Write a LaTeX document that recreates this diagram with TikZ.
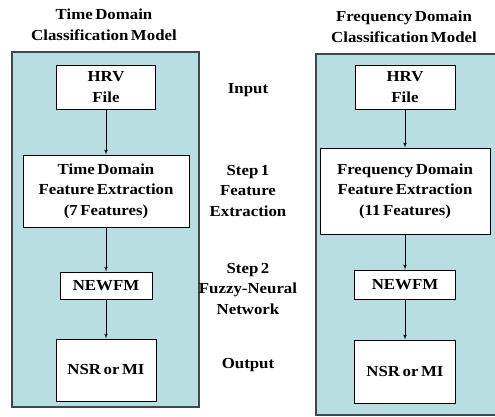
\documentclass[tikz,border=0pt]{standalone}
\usepackage{fontspec}
\setmainfont[FakeStretch=1.1,WordSpace=0.6]{Liberation Serif}
\usetikzlibrary{arrows,positioning}
\definecolor{panelfill}{RGB}{184,222,226}
\definecolor{panelline}{RGB}{64,72,76}

\begin{document}
\begin{tikzpicture}[x=1pt,y=-1pt,>=latex',
    every node/.style={font=\fontsize{15.3}{20.5}\selectfont\bfseries,align=center},
    panel/.style={draw=panelline,line width=1.4pt,fill=panelfill},
    box node/.style={draw,fill=white,line width=0.8pt,inner sep=0pt},
    every edge/.append style={->,line width=0.7pt}]

\clip (0,0) rectangle (495,416);

% the two model panels
\draw[panel] (12,52) rectangle (199,407);
\draw[panel] (316,54) rectangle (505,415);

\node (titleT) at (104,25) {Time Domain\\Classification Model};
\node (titleF) at (404,27) {Frequency Domain\\Classification Model};

% time domain column
\node[box node, minimum width=99pt, minimum height=44pt] (hrvT) at (106,87) {HRV\\File};
\node[box node, minimum width=166pt, minimum height=72pt] (featT) [below of=hrvT, node distance=104pt] {Time Domain\\Feature Extraction\\(7 Features)};
\node[box node, minimum width=92pt, minimum height=27pt] (newfmT) [below of=featT, node distance=94.5pt] {NEWFM};
\node[box node, minimum width=100pt, minimum height=62pt] (outT) [below of=newfmT, node distance=84.5pt] {NSR or MI};

% frequency domain column
\node[box node, minimum width=100pt, minimum height=44pt] (hrvF) at (405,87) {HRV\\File};
\node[box node, minimum width=170pt, minimum height=86pt] (featF) [below of=hrvF, node distance=104pt] {Frequency Domain\\Feature Extraction\\(11 Features)};
\node[box node, minimum width=101pt, minimum height=29pt] (newfmF) [below of=featF, node distance=93.5pt] {NEWFM};
\node[box node, minimum width=101pt, minimum height=63pt] (outF) [below of=newfmF, node distance=87pt] {NSR or MI};

% step labels
\node (inLab) at (248,90) {Input};
\node (stepA) at (248,191) {Step 1\\Feature\\Extraction};
\node (stepB) at (248,289) {Step 2\\Fuzzy-Neural\\Network};
\node (outLab) at (248,365) {Output};

\path
(hrvT) edge (featT)
(featT) edge (newfmT)
(newfmT) edge (outT)
(hrvF) edge (featF)
(featF) edge (newfmF)
(newfmF) edge (outF)
;

\end{tikzpicture}
\end{document}
